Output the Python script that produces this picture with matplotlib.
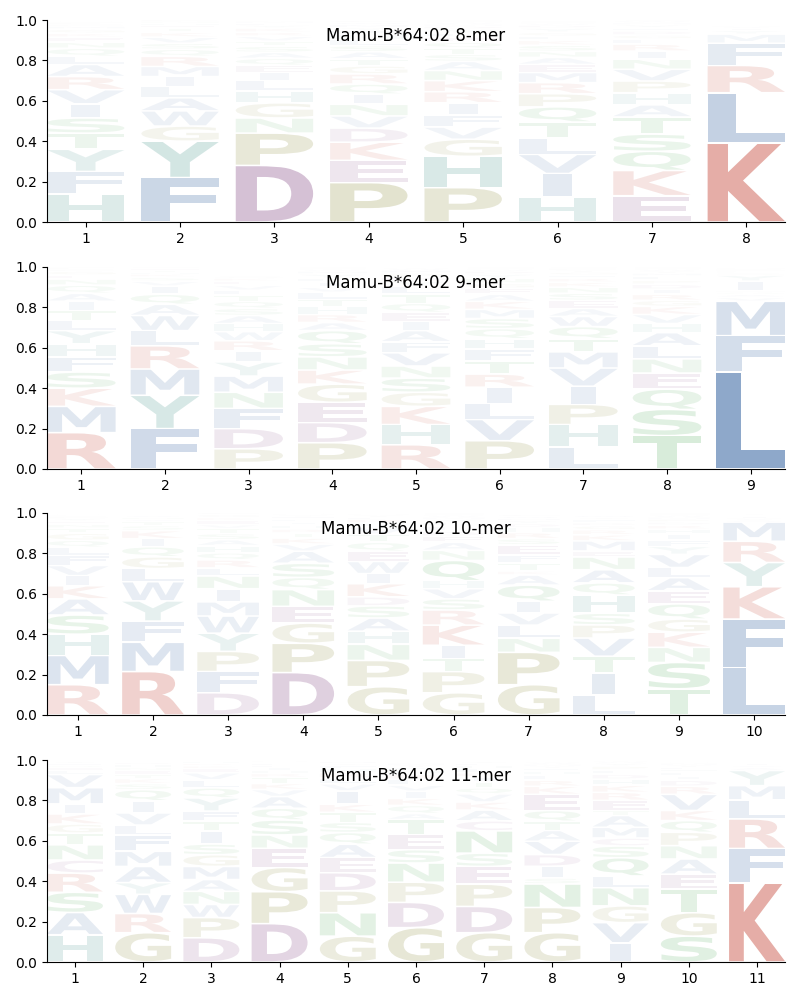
import matplotlib
matplotlib.use("Agg")
import matplotlib.pyplot as plt
from matplotlib.textpath import TextPath
from matplotlib.patches import PathPatch
from matplotlib.font_manager import FontProperties
from matplotlib.transforms import Affine2D

# residue colour groups (drawn with alpha = frequency)
group_colors = {
    "KR": (0.74, 0.18, 0.11),
    "DEC": (0.42, 0.13, 0.42),
    "PG": (0.45, 0.45, 0.06),
    "HY": (0.06, 0.46, 0.41),
    "STNQ": (0.08, 0.55, 0.12),
    "AVLIMFW": (0.08, 0.29, 0.57),
}

# ---- 8-mer: letters per position (bottom -> top) and their frequencies
letters_8 = ["HFYTSIVRALQNEKGMDPWC",
             "FYGWALIMRQSVKTEHND",
             "DPNGHLIEQASTVRKYFMWC",
             "PEKDVNIQRGTASLHFYMWC",
             "PHGVFIRKNASTQELYDMWC",
             "HIVLTQPRMEANSKFGYDWC",
             "EKQSTAHPVNIRLGDFYMWC",
             "KLRFMYIVQSAHNTEDGPWC"]
probs_8 = [[.14, .11, .11, .08, .075, .07, .07, .065, .06, .04, .04, .03, .025, .02, .02, .015, .01, .01, .005, .005],
           [.22, .18, .075, .075, .065, .055, .05, .05, .05, .035, .03, .03, .025, .02, .015, .01, .01, .01],
           [.28, .16, .075, .075, .06, .05, .04, .035, .035, .03, .03, .025, .025, .02, .02, .015, .01, .01, .005, .005],
           [.195, .11, .09, .07, .06, .058, .05, .05, .05, .04, .035, .035, .03, .03, .025, .02, .015, .015, .01, .01],
           [.17, .155, .085, .06, .06, .06, .055, .055, .05, .045, .035, .03, .03, .025, .02, .02, .015, .01, .01, .01],
           [.125, .115, .095, .08, .08, .075, .065, .055, .05, .04, .035, .03, .03, .025, .02, .02, .02, .015, .01, .01],
           [.13, .125, .095, .085, .085, .06, .06, .058, .058, .05, .04, .035, .025, .02, .02, .015, .015, .01, .01, .01],
           [.39, .25, .135, .11, .045, .02, .01, .01, .0025, .0025, .0025, .0025, .0025, .0025, .0025, .0025, .0025, .0025, .0025, .0025]]

# ---- 9-mer
letters_9 = ["RMKSFHYLTIAQNEGDP",
             "FYMRLWAQIVSKHTEG",
             "PDFNMYIRWHASQTLVEKG",
             "PDEGKNSQARHTLVIFYMWC",
             "RHKGSNVFAIEQTLYDPMWC",
             "PVLIRTFHQSMKAEGNYDWC",
             "LHPIVMTQWAESNKRFGYDC",
             "TSQENLAHVKGRIDPFMYWC",
             "LFMVAQTIYSKRHEN"]
probs_9 = [[.18, .13, .09, .08, .075, .065, .065, .05, .05, .045, .04, .04, .03, .02, .02, .01, .01],
           [.20, .165, .13, .115, .075, .075, .055, .05, .04, .025, .02, .015, .01, .01, .01, .01],
           [.10, .10, .10, .08, .08, .07, .055, .05, .045, .04, .04, .035, .035, .03, .025, .025, .02, .015, .01],
           [.13, .10, .10, .09, .07, .065, .065, .065, .04, .04, .04, .035, .035, .025, .025, .02, .02, .015, .01, .01],
           [.12, .10, .09, .07, .07, .06, .065, .055, .055, .045, .045, .045, .045, .04, .025, .02, .02, .015, .01, .005],
           [.14, .105, .08, .08, .065, .065, .06, .05, .05, .05, .045, .04, .035, .03, .025, .025, .02, .015, .01, .01],
           [.11, .11, .10, .09, .09, .08, .065, .06, .05, .04, .04, .035, .03, .025, .02, .015, .015, .01, .01, .01],
           [.165, .13, .10, .08, .07, .065, .065, .045, .045, .04, .03, .03, .025, .025, .02, .02, .015, .01, .01, .01],
           [.48, .18, .17, .02, .015, .01, .005, .05, .03, .01, .005, .005, .005, .005, .005]]

# ---- 10-mer
letters_10 = ["RMHSAKIVFLQGTNEYDPWC",
              "RMFYWLGQIKSTANVEHDPC",
              "DFPYWMINLRQHASTVEKGC",
              "DPGENQSAVKTRHILFYMWC",
              "GPNHASDKIWEQTVLRFYMC",
              "GPTIKRSVHQNAEDLFYMWC",
              "GPNLVIQAKTFESRHDYMWC",
              "LITVPSHQANEMKRGDFYWC",
              "TSNKGQEALVYFIHRDPMWC",
              "LFKYRMAVIST"]
probs_10 = [[.15, .145, .105, .095, .08, .065, .05, .05, .05, .04, .035, .035, .025, .02, .015, .015, .01, .005, .005, .005],
            [.215, .145, .105, .10, .095, .065, .058, .05, .04, .04, .025, .02, .01, .01, .01, .005, .005, .005, .005, .005],
            [.11, .105, .10, .09, .085, .07, .065, .063, .04, .04, .035, .035, .03, .03, .025, .02, .02, .015, .015, .01],
            [.21, .145, .10, .083, .083, .06, .07, .06, .035, .03, .025, .02, .02, .015, .015, .01, .01, .005, .005, .005],
            [.14, .13, .08, .065, .065, .06, .045, .065, .05, .06, .05, .045, .04, .035, .02, .02, .01, .01, .005, .005],
            [.11, .105, .065, .065, .10, .075, .055, .05, .04, .10, .05, .04, .03, .025, .025, .02, .015, .01, .01, .01],
            [.15, .16, .07, .065, .06, .058, .08, .05, .02, .04, .04, .05, .03, .03, .025, .02, .015, .01, .01, .01],
            [.10, .108, .083, .09, .065, .058, .09, .06, .065, .063, .03, .05, .03, .025, .02, .015, .015, .01, .01, .005],
            [.13, .13, .075, .075, .065, .075, .065, .065, .05, .065, .04, .03, .03, .025, .02, .015, .015, .01, .01, .01],
            [.235, .24, .16, .12, .105, .095, .01, .01, .01, .005, .005]]

# ---- 11-mer
letters_11 = ["HASRCNTGKIMVLEQFYDPW",
              "GRWYAMFLVIQSKTENHDPC",
              "DPWNAMGSITFYQLVEKRHC",
              "DPGENSQAVKTRHILFYMWC",
              "GNPDEAQSTKIVLRHFYMWC",
              "GDPNSETAQKIVLRHFYMWC",
              "GDPESNCAKVQTIRLHFYMW",
              "GPNSIDVATQEKRLHFYMWC",
              "IVGNLQSCMATERKHDFPYW",
              "SGTEANPQKVRDILHFYMWC",
              "KFRLMYAVIST"]
probs_11 = [[.135, .11, .10, .095, .065, .075, .058, .045, .05, .05, .08, .065, .02, .015, .01, .01, .01, .005, .005, .005],
            [.145, .095, .095, .058, .08, .075, .08, .05, .06, .06, .055, .03, .025, .02, .02, .015, .015, .01, .005, .005],
            [.12, .10, .065, .065, .058, .065, .058, .053, .063, .05, .05, .065, .05, .04, .035, .02, .015, .01, .01, .005],
            [.19, .158, .12, .095, .066, .074, .058, .058, .035, .03, .03, .02, .015, .015, .01, .01, .005, .005, .005, .005],
            [.128, .116, .108, .09, .075, .066, .058, .05, .05, .04, .066, .035, .03, .025, .02, .015, .01, .01, .005, .005],
            [.17, .125, .10, .095, .066, .075, .074, .03, .04, .035, .035, .03, .03, .025, .02, .015, .01, .01, .005, .005],
            [.145, .13, .11, .088, .066, .11, .05, .053, .04, .04, .03, .03, .025, .02, .02, .015, .01, .01, .005, .005],
            [.145, .125, .116, .03, .058, .058, .066, .053, .046, .053, .08, .04, .03, .025, .02, .015, .01, .01, .01, .005],
            [.095, .10, .083, .09, .058, .09, .058, .04, .053, .058, .025, .05, .04, .035, .03, .025, .02, .02, .015, .01],
            [.128, .116, .116, .075, .075, .066, .066, .058, .05, .08, .04, .03, .02, .02, .015, .01, .01, .01, .005, .005],
            [.39, .172, .146, .095, .07, .075, .015, .01, .01, .005, .005]]

titles = ["Mamu-B*64:02 8-mer", "Mamu-B*64:02 9-mer",
          "Mamu-B*64:02 10-mer", "Mamu-B*64:02 11-mer"]

font = FontProperties(family="DejaVu Sans", weight="bold")
letter_w = 0.82
vpad = 0.004


def color_of(ch):
    for group, col in group_colors.items():
        if ch in group:
            return col
    return (0.5, 0.5, 0.5)


def draw_letter(ax, ch, x, y0, h):
    tp = TextPath((0, 0), ch, size=1, prop=font)
    bb = tp.get_extents()
    w = letter_w * (0.37 if ch == "I" else 1.0)
    hh = max(h - 2 * vpad, h * 0.5)
    tr = (Affine2D().translate(-bb.x0, -bb.y0)
          .scale(w / bb.width, hh / bb.height)
          .translate(x - w / 2, y0 + (h - hh) / 2))
    path = tr.transform_path(tp)
    ax.add_patch(PathPatch(path, facecolor=color_of(ch), edgecolor="none",
                           alpha=min(1.0, h), lw=0))


def draw_logo(ax, letters, probs, title):
    n = len(letters)
    for i in range(n):
        bottom = 0.0
        for ch, p in zip(letters[i], probs[i]):
            draw_letter(ax, ch, i + 1, bottom, p)
            bottom += p
    ax.set_xlim(1 - letter_w / 2, n + letter_w / 2)
    ax.set_ylim(0, 1)
    ax.set_xticks(range(1, n + 1))
    ax.set_yticks([0, 0.2, 0.4, 0.6, 0.8, 1.0])
    ax.spines["top"].set_visible(False)
    ax.spines["right"].set_visible(False)
    ax.text(0.5, 0.92, title, transform=ax.transAxes, ha="center",
            va="center", fontsize=12)


fig = plt.figure(figsize=(8, 10), dpi=100)
all_letters = [letters_8, letters_9, letters_10, letters_11]
all_probs = [probs_8, probs_9, probs_10, probs_11]
tops = [20, 267, 513, 760]
for k in range(4):
    ax = fig.add_axes([47 / 800, 1 - (tops[k] + 202) / 1000, 738 / 800, 202 / 1000])
    draw_logo(ax, all_letters[k], all_probs[k], titles[k])

fig.savefig("out.png", dpi=100)
